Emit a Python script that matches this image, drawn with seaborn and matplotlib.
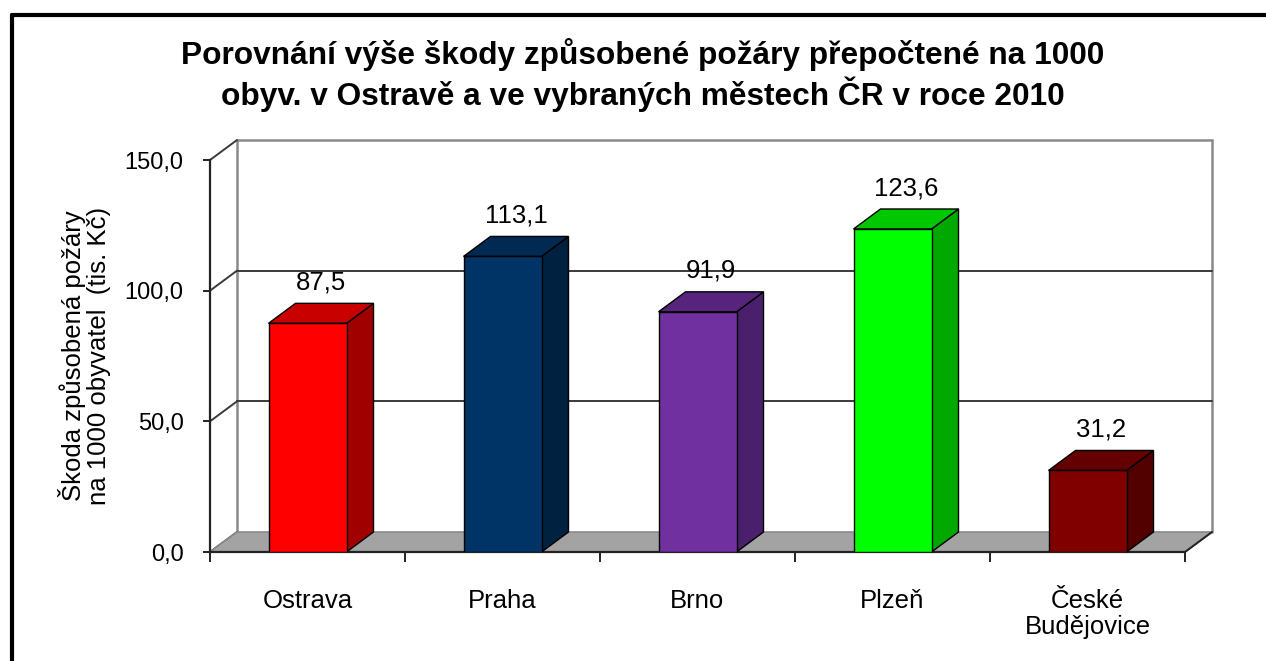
import numpy as np
import pandas as pd
import seaborn as sns
import matplotlib.pyplot as plt
from matplotlib.patches import Polygon
from matplotlib.lines import Line2D

# Fire damage per 1000 inhabitants (thousand CZK), 2010
cities = ["Ostrava", "Praha", "Brno", "Plzeň", "České\nBudějovice"]
damage = [87.5, 113.1, 91.9, 123.6, 31.2]
y_ticks = [0, 50, 100, 150]

front_colors = ["#FF0000", "#003366", "#7030A0", "#00FF00", "#800000"]
side_colors = ["#A00000", "#00213F", "#4A1F6B", "#00A800", "#520000"]
top_colors = ["#C80000", "#002A52", "#56247C", "#00C800", "#640000"]

title_lines = [
    "Porovnání výše škody způsobené požáry přepočtené na 1000",
    "obyv. v Ostravě a ve vybraných městech ČR v roce 2010",
]
ylabel_lines = ["Škoda způsobená požáry", "na 1000 obyvatel  (tis. Kč)"]

sns.set_theme(style="white")
plt.rcParams["font.family"] = ["Liberation Sans", "DejaVu Sans"]
plt.rcParams["text.color"] = "black"
plt.rcParams["xtick.color"] = "black"
plt.rcParams["ytick.color"] = "black"
plt.rcParams["xtick.labelcolor"] = "black"
plt.rcParams["ytick.labelcolor"] = "black"

W, H = 1266, 661
fig = plt.figure(figsize=(W / 100, H / 100), dpi=100)
fig.patch.set_facecolor("white")

# plot box (front plane) in pixels
x_left, x_right, y_bottom, y_top = 210, 1185, 552, 160
ax = fig.add_axes([x_left / W, 1 - y_bottom / H,
                   (x_right - x_left) / W, (y_bottom - y_top) / H])
ax.set_facecolor("none")

df = pd.DataFrame({"city": cities, "damage": damage})
sns.barplot(data=df, x="city", y="damage", hue="city", palette=front_colors,
            width=0.4, legend=False, ax=ax, edgecolor="black", linewidth=1.0,
            saturation=1, zorder=4)
ax.set_xlim(-0.5, 4.5)
ax.set_ylim(0, 150)

# depth of the 3-D effect in data units
DX = 27 / 195
DY = 20 / 392 * 150

bars = list(ax.patches)[:len(damage)]

# back wall frame
wall_c = "#8a8a8a"
x0w, x1w = -0.5 + DX, 4.5 + DX
for xs, ys in [([x0w, x0w], [DY, 150 + DY]),
               ([x1w, x1w], [DY, 150 + DY]),
               ([x0w, x1w], [150 + DY, 150 + DY])]:
    ax.add_line(Line2D(xs, ys, color=wall_c, lw=1.8, clip_on=False, zorder=1))

# gridlines on the back wall with their diagonal connectors
for t in [50, 100]:
    ax.add_line(Line2D([x0w, x1w], [t + DY, t + DY], color="#3a3a3a", lw=1.4,
                       clip_on=False, zorder=1.5))
for t in y_ticks:
    ax.add_line(Line2D([-0.5, x0w], [t, t + DY], color="#3a3a3a", lw=1.4,
                       clip_on=False, zorder=1.5))

# floor
floor = Polygon([(-0.5, 0), (4.5, 0), (4.5 + DX, DY), (-0.5 + DX, DY)],
                closed=True, facecolor="#a3a3a3", edgecolor="#8a8a8a", lw=1.2,
                clip_on=False, zorder=2)
ax.add_patch(floor)
ax.add_line(Line2D([-0.5, 4.5], [0, 0], color="#222222", lw=1.6,
                   clip_on=False, zorder=2.5))
ax.add_line(Line2D([4.5, 4.5 + DX], [0, DY], color="#222222", lw=1.4,
                   clip_on=False, zorder=2.5))

# side and top faces of each bar, plus value labels
for p, v, sc, tc in zip(bars, damage, side_colors, top_colors):
    bx0 = p.get_x()
    bx1 = bx0 + p.get_width()
    h = p.get_height()
    side = Polygon([(bx1, 0), (bx1 + DX, DY), (bx1 + DX, h + DY), (bx1, h)],
                   closed=True, facecolor=sc, edgecolor="black", lw=1.0,
                   clip_on=False, zorder=3.5)
    top = Polygon([(bx0, h), (bx0 + DX, h + DY), (bx1 + DX, h + DY), (bx1, h)],
                  closed=True, facecolor=tc, edgecolor="black", lw=1.0,
                  clip_on=False, zorder=3.5)
    ax.add_patch(side)
    ax.add_patch(top)
    ax.text(bx0 + p.get_width() / 2 + DX / 2, h + DY + 8,
            f"{v:.1f}".replace(".", ","), ha="center", va="center",
            fontsize=18.5, color="black", zorder=6, clip_on=False)

# axes styling
for s in ["top", "right", "bottom"]:
    ax.spines[s].set_visible(False)
ax.spines["left"].set_color("#222222")
ax.spines["left"].set_linewidth(1.6)
ax.spines["left"].set_zorder(2.6)

ax.set_yticks(y_ticks)
ax.set_yticklabels([f"{t:.1f}".replace(".", ",") for t in y_ticks],
                   fontsize=17)
ax.tick_params(axis="y", direction="out", length=5, width=1.4, color="#222222",
               pad=14, left=True)

ax.set_xticks(range(len(cities)))
ax.set_xticklabels(cities, fontsize=18.5, linespacing=1.1)
ax.set_xticks(np.arange(-0.5, 5.0, 1.0), minor=True)
ax.tick_params(axis="x", which="major", length=0, pad=27)
ax.tick_params(axis="x", which="minor", direction="out", length=7, width=1.4,
               color="#222222", bottom=True)
ax.set_xlabel("")
ax.set_ylabel("")

# y label (two rotated lines)
fig.text(72 / W, 1 - 356 / H, ylabel_lines[0], rotation=90, ha="center",
         va="center", fontsize=18.5)
fig.text(99 / W, 1 - 356 / H, ylabel_lines[1], rotation=90, ha="center",
         va="center", fontsize=18.5)

# title
fig.text(643 / W, 1 - 55 / H, title_lines[0], ha="center", va="center",
         fontsize=22.8, fontweight="bold")
fig.text(643 / W, 1 - 94 / H, title_lines[1], ha="center", va="center",
         fontsize=22.8, fontweight="bold")

# outer frame (left and top edges)
fig.add_artist(Line2D([12 / W, 12 / W], [0, 1 - 15 / H], color="black",
                      lw=3, transform=fig.transFigure))
fig.add_artist(Line2D([12 / W, 1], [1 - 15 / H, 1 - 15 / H], color="black",
                      lw=3, transform=fig.transFigure))

fig.savefig("out.png", dpi=100, facecolor="white")
